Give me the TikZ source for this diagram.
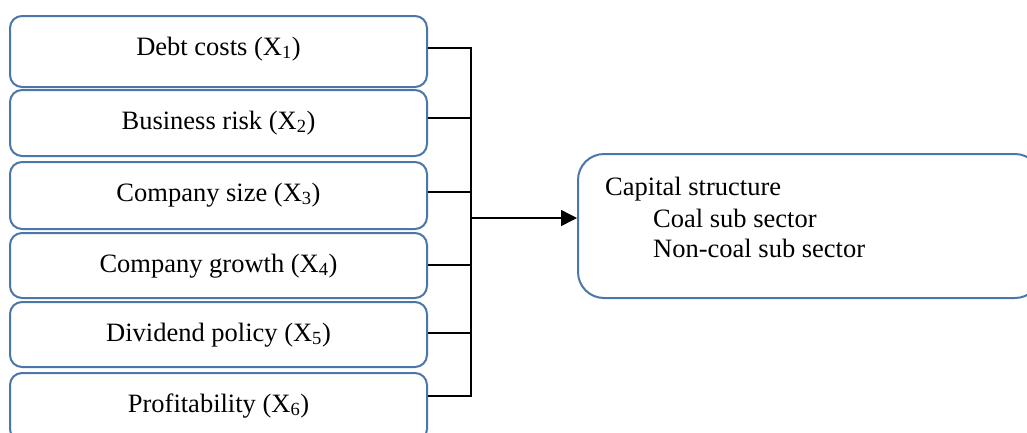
\documentclass[tikz,border=0pt]{standalone}
\usepackage{fontspec}
\setmainfont{Liberation Serif}
\usetikzlibrary{arrows.meta}
\definecolor{box-blue}{RGB}{74,118,168}
\tikzset{
    factor-box/.style = {draw=box-blue, line width=2pt, rectangle, rounded corners=12pt, minimum width=417pt, inner sep=0pt, text height=39pt, anchor=north},
    result-box/.style = {draw=box-blue, line width=2pt, rectangle, rounded corners=26pt, minimum width=463pt, minimum height=144pt, anchor=north west},
    bus-line/.style = {black, line width=1.5pt},
    result-text/.style = {anchor=base west, inner sep=0pt},
}

\begin{document}
\begin{tikzpicture}[x=1pt, y=-1pt, font=\fontsize{26.5}{30.5}\selectfont]
\clip (0,0) rectangle (1027,432);
\node[factor-box, text depth=32pt] (x1) at (218.5,15) {Debt costs (X\textsubscript{1})};
\node[factor-box, text depth=27pt] (x2) at (218.5,89) {Business risk (X\textsubscript{2})};
\node[factor-box, text depth=28pt] (x3) at (218.5,161) {Company size (X\textsubscript{3})};
\node[factor-box, text depth=26pt] (x4) at (218.5,232) {Company growth (X\textsubscript{4})};
\node[factor-box, text depth=26pt] (x5) at (218.5,301) {Dividend policy (X\textsubscript{5})};
\node[factor-box, text depth=29pt] (x6) at (218.5,372) {Profitability (X\textsubscript{6})};

\node[result-box] (result) at (577,153) {};
\node[result-text] (capital) at (605,195) {Capital structure};
\node[result-text] (coal) at (653,227) {Coal sub sector};
\node[result-text] (non-coal) at (653,257) {Non-coal sub sector};

\coordinate (bus-top) at (471,47);
\coordinate (bus-bot) at (471,397);
\draw[bus-line] (bus-top) -- (bus-bot);
\foreach \factor/\shift in {x1/3.5, x2/5, x3/3.5, x4/0.5, x5/1.5, x6/11}
    \draw[bus-line] ([yshift=\shift pt]\factor.east) -- ([yshift=\shift pt]\factor.east -| bus-top);
\draw[bus-line, -{Triangle[length=16pt, width=16pt]}] ([yshift=8pt]result.west -| bus-top) -- ([yshift=8pt]result.west);
\end{tikzpicture}
\end{document}
